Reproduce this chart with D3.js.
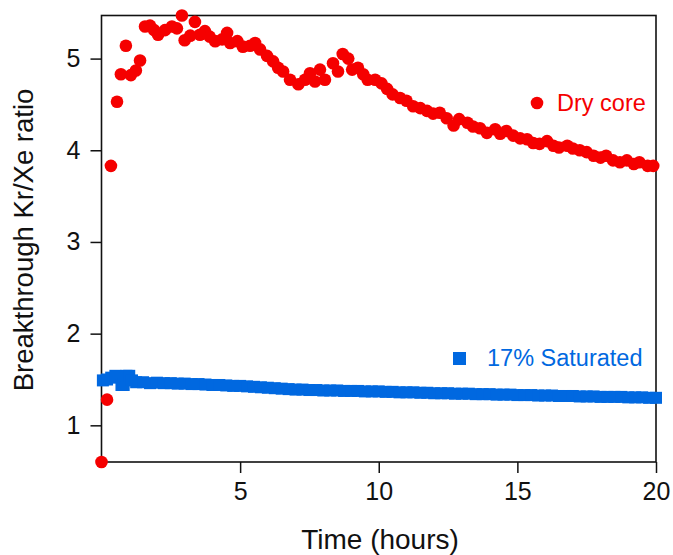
<!DOCTYPE html>
<html>
<head>
<meta charset="utf-8">
<script src="https://cdn.jsdelivr.net/npm/d3@7"></script>
<style>
    body { margin: 0; background: #fff; }
    svg { display: block; font-family: "Liberation Sans", Arial, sans-serif; }
</style>
</head>
<body>
<svg class="kr-chart"></svg>
<script>
// [time (hours), ratio]
const dryCore = [
    [0.0, 0.60], [0.2, 1.28], [0.34, 3.83], [0.56, 4.53], [0.7, 4.83], [0.88, 5.14],
    [1.06, 4.82], [1.24, 4.87], [1.39, 4.98], [1.57, 5.35], [1.75, 5.36], [1.9, 5.31],
    [2.04, 5.26], [2.29, 5.31], [2.54, 5.35], [2.72, 5.33], [2.9, 5.47], [3.0, 5.20],
    [3.2, 5.25], [3.37, 5.40], [3.55, 5.26], [3.73, 5.30], [3.9, 5.24], [4.1, 5.19],
    [4.35, 5.21], [4.53, 5.28], [4.64, 5.17], [4.9, 5.19], [5.1, 5.13], [5.36, 5.14],
    [5.54, 5.17], [5.72, 5.10], [5.97, 5.03], [6.19, 4.97], [6.37, 4.90], [6.55, 4.86],
    [6.8, 4.77], [7.1, 4.72], [7.34, 4.77], [7.52, 4.84], [7.7, 4.75], [7.88, 4.88],
    [8.06, 4.77], [8.35, 4.95], [8.53, 4.86], [8.7, 5.05], [8.9, 5.00], [9.04, 4.88],
    [9.25, 4.90], [9.44, 4.83], [9.6, 4.77], [9.87, 4.77], [10.1, 4.73], [10.3, 4.67],
    [10.5, 4.61], [10.77, 4.57], [11.0, 4.54], [11.24, 4.48], [11.5, 4.46], [11.74, 4.43],
    [11.96, 4.40], [12.2, 4.41], [12.45, 4.35], [12.7, 4.27], [12.9, 4.34], [13.2, 4.30],
    [13.4, 4.26], [13.65, 4.24], [13.9, 4.19], [14.2, 4.23], [14.38, 4.18], [14.6, 4.21],
    [14.85, 4.16], [15.1, 4.13], [15.35, 4.12], [15.57, 4.08], [15.8, 4.07], [16.07, 4.10],
    [16.3, 4.05], [16.5, 4.03], [16.8, 4.05], [17.0, 4.02], [17.25, 4.00], [17.5, 3.98],
    [17.75, 3.94], [18.0, 3.92], [18.2, 3.94], [18.45, 3.89], [18.7, 3.87], [18.95, 3.89],
    [19.2, 3.85], [19.4, 3.87], [19.7, 3.83], [19.9, 3.83]
]

const saturated = [
    [0.05, 1.49], [0.2, 1.50], [0.35, 1.52], [0.5, 1.54], [0.65, 1.53], [0.72, 1.44],
    [0.8, 1.44], [0.9, 1.54], [1.0, 1.54], [1.1, 1.49], [1.25, 1.47], [1.5, 1.47], [1.75, 1.46],
    [2.0, 1.465], [2.25, 1.46], [2.5, 1.46], [2.75, 1.455], [3.0, 1.455], [3.25, 1.45],
    [3.5, 1.45], [3.75, 1.445], [4.0, 1.44], [4.25, 1.44], [4.5, 1.435], [4.75, 1.43],
    [5.0, 1.43], [5.25, 1.425], [5.5, 1.42], [5.75, 1.415], [6.0, 1.41], [6.25, 1.405],
    [6.5, 1.40], [6.75, 1.395], [7.0, 1.39], [7.25, 1.39], [7.5, 1.385], [7.75, 1.385],
    [8.0, 1.38], [8.25, 1.38], [8.5, 1.38], [8.75, 1.375], [9.0, 1.375], [9.25, 1.375],
    [9.5, 1.37], [9.75, 1.37], [10.0, 1.37], [10.25, 1.365], [10.5, 1.365], [10.75, 1.36],
    [11.0, 1.36], [11.25, 1.36], [11.5, 1.355], [11.75, 1.355], [12.0, 1.35], [12.25, 1.35],
    [12.5, 1.35], [12.75, 1.345], [13.0, 1.345], [13.25, 1.345], [13.5, 1.34], [13.75, 1.34],
    [14.0, 1.34], [14.25, 1.335], [14.5, 1.335], [14.75, 1.335], [15.0, 1.33], [15.25, 1.33],
    [15.5, 1.33], [15.75, 1.325], [16.0, 1.325], [16.25, 1.325], [16.5, 1.32], [16.75, 1.32],
    [17.0, 1.32], [17.25, 1.315], [17.5, 1.315], [17.75, 1.315], [18.0, 1.31], [18.25, 1.31],
    [18.5, 1.31], [18.75, 1.31], [19.0, 1.305], [19.25, 1.305], [19.5, 1.305], [19.75, 1.30],
    [20.0, 1.30]
]

const xTicks = [5, 10, 15, 20]
const yTicks = [1, 2, 3, 4, 5]
const seriesNames = ['Dry core', '17% Saturated']

const red = '#f50000'
const blue = '#0068e0'

const width = 673
const height = 555
const m = { top: 15.5, right: 17, bottom: 93, left: 101.5 }

const svg = d3.select('.kr-chart')
    .attr('width', width)
    .attr('height', height)

const x = d3.scaleLinear().domain([0, 20]).range([m.left, width - m.right])
const y = d3.scaleLinear().domain([0.6, 5.47]).range([height - m.bottom, m.top])

// axes
svg.append('g')
    .attr('transform', `translate(0,${height - m.bottom})`)
    .call(d3.axisBottom(x).tickValues(xTicks).tickFormat(d3.format('d'))
        .tickSize(11).tickPadding(9).tickSizeOuter(0))
    .call(g => g.select('.domain').remove())
    .call(g => g.selectAll('line').attr('stroke', '#111').attr('stroke-width', 1.5))
    .call(g => g.selectAll('text').attr('font-size', 25).attr('fill', '#111'))

svg.append('g')
    .attr('transform', `translate(${m.left},0)`)
    .call(d3.axisLeft(y).tickValues(yTicks).tickFormat(d3.format('d'))
        .tickSize(11).tickPadding(10).tickSizeOuter(0))
    .call(g => g.select('.domain').remove())
    .call(g => g.selectAll('line').attr('stroke', '#111').attr('stroke-width', 1.5))
    .call(g => g.selectAll('text').attr('font-size', 25).attr('fill', '#111'))

// frame
svg.append('rect')
    .attr('x', m.left)
    .attr('y', m.top)
    .attr('width', width - m.right - m.left)
    .attr('height', height - m.bottom - m.top)
    .attr('fill', 'none')
    .attr('stroke', '#111')
    .attr('stroke-width', 1.6)

// titles
svg.append('text')
    .attr('x', 380)
    .attr('y', 549)
    .attr('text-anchor', 'middle')
    .attr('font-size', 28)
    .attr('fill', '#111')
    .text('Time (hours)')

svg.append('text')
    .attr('transform', `translate(33,240) rotate(-90)`)
    .attr('text-anchor', 'middle')
    .attr('font-size', 27.5)
    .attr('fill', '#111')
    .text('Breakthrough Kr/Xe ratio')

// data
const sq = 12
svg.append('g')
    .selectAll('rect')
    .data(saturated)
    .enter()
    .append('rect')
    .attr('x', d => x(d[0]) - sq / 2)
    .attr('y', d => y(d[1]) - sq / 2)
    .attr('width', sq)
    .attr('height', sq)
    .attr('fill', blue)

svg.append('g')
    .selectAll('circle')
    .data(dryCore)
    .enter()
    .append('circle')
    .attr('cx', d => x(d[0]))
    .attr('cy', d => y(d[1]))
    .attr('r', 6.3)
    .attr('fill', red)

// legend
svg.append('circle')
    .attr('cx', 537).attr('cy', 103).attr('r', 6.3).attr('fill', red)
svg.append('text')
    .attr('x', 557).attr('y', 103).attr('dy', '0.35em')
    .attr('font-size', 23.5).attr('fill', red)
    .text(seriesNames[0])

svg.append('rect')
    .attr('x', 453).attr('y', 352).attr('width', 13).attr('height', 13).attr('fill', blue)
svg.append('text')
    .attr('x', 487).attr('y', 358).attr('dy', '0.35em')
    .attr('font-size', 23.5).attr('fill', blue)
    .text(seriesNames[1])
</script>
</body>
</html>
